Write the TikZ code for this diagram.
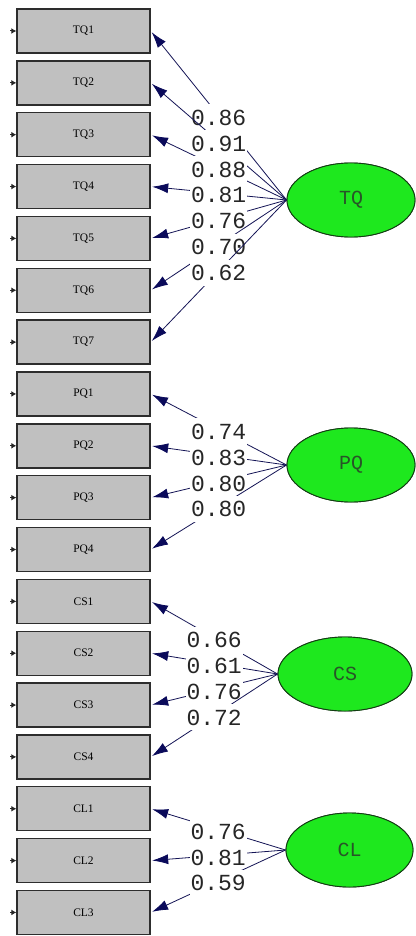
\documentclass[tikz,border=0pt]{standalone}
\usepackage{fontspec}
\usetikzlibrary{arrows.meta,shapes.geometric}
\newfontfamily\lblmono{Liberation Mono}
\newfontfamily\boxserif{Liberation Serif}
\definecolor{pathnavy}{RGB}{20,20,85}
\definecolor{tipnavy}{RGB}{10,10,90}
\definecolor{boxgray}{RGB}{192,192,192}
\definecolor{boxedge}{RGB}{45,45,45}
\definecolor{latgreen}{RGB}{30,232,30}
\definecolor{latedge}{RGB}{20,60,20}
\definecolor{lattext}{RGB}{40,85,40}
\tikzset{
  obsbox/.style={draw=boxedge, fill=boxgray, line width=1.4pt, minimum width=133pt, minimum height=44pt, inner sep=0pt, font=\boxserif\fontsize{11.5}{11.5}\selectfont},
  latent/.style={ellipse, draw=latedge, fill=latgreen, line width=0.9pt, minimum height=74pt, inner sep=0pt, text=lattext, font=\lblmono\fontsize{20}{20}\selectfont},
  loadpath/.style={draw=pathnavy, line width=0.8pt, -{Latex[length=16pt,width=10pt,color=tipnavy]}, shorten >=1.5pt},
  loadlbl/.style={fill=white, inner xsep=1pt, inner ysep=0pt, minimum height=26pt, text depth=0pt, yshift=-2pt, font=\lblmono\fontsize{23}{23}\selectfont, text=black!85},
  errstub/.style={draw=black!85, line width=1pt, -{Latex[length=5pt,width=6pt]}}
}
\begin{document}
\begin{tikzpicture}[x=1pt,y=-1pt]
\fill[white] (0,0) rectangle (415,936);
\useasboundingbox (0,0) rectangle (415,936);
% observed indicators
\foreach \nm [count=\i from 0] in {TQ1,TQ2,TQ3,TQ4,TQ5,TQ6,TQ7,PQ1,PQ2,PQ3,PQ4,CS1,CS2,CS3,CS4,CL1,CL2,CL3} {
  \node[obsbox] (\nm) at (83.5, {31+51.85*\i}) {\nm};
  \coordinate (e\nm) at (10, {31+51.85*\i});
  \draw[errstub] (e\nm) -- (\nm.west);
}
% latent variable anchors (ellipses drawn after the paths)
\coordinate (cTQ) at (351,200);
\coordinate (cPQ) at (351,465);
\coordinate (cCS) at (345,674);
\coordinate (cCL) at (349.5,850);
\node[latent, minimum width=128pt] (lTQ) at (cTQ) {TQ};
\node[latent, minimum width=128pt] (lPQ) at (cPQ) {PQ};
\node[latent, minimum width=134pt] (lCS) at (cCS) {CS};
\node[latent, minimum width=127pt] (lCL) at (cCL) {CL};
% loadings
\foreach \lat/\ind/\val in {
  lTQ/TQ1/0.86, lTQ/TQ2/0.91, lTQ/TQ3/0.88, lTQ/TQ4/0.81, lTQ/TQ5/0.76, lTQ/TQ6/0.70, lTQ/TQ7/0.62,
  lPQ/PQ1/0.74, lPQ/PQ2/0.83, lPQ/PQ3/0.80, lPQ/PQ4/0.80,
  lCS/CS1/0.66, lCS/CS2/0.61, lCS/CS3/0.76, lCS/CS4/0.72,
  lCL/CL1/0.76, lCL/CL2/0.81, lCL/CL3/0.59} {
  \draw[loadpath] (\lat.west) -- node[loadlbl] {\val} (\ind.east);
}
% redraw ellipses on top
\node[latent, minimum width=128pt] at (cTQ) {TQ};
\node[latent, minimum width=128pt] at (cPQ) {PQ};
\node[latent, minimum width=134pt] at (cCS) {CS};
\node[latent, minimum width=127pt] at (cCL) {CL};
\end{tikzpicture}
\end{document}
